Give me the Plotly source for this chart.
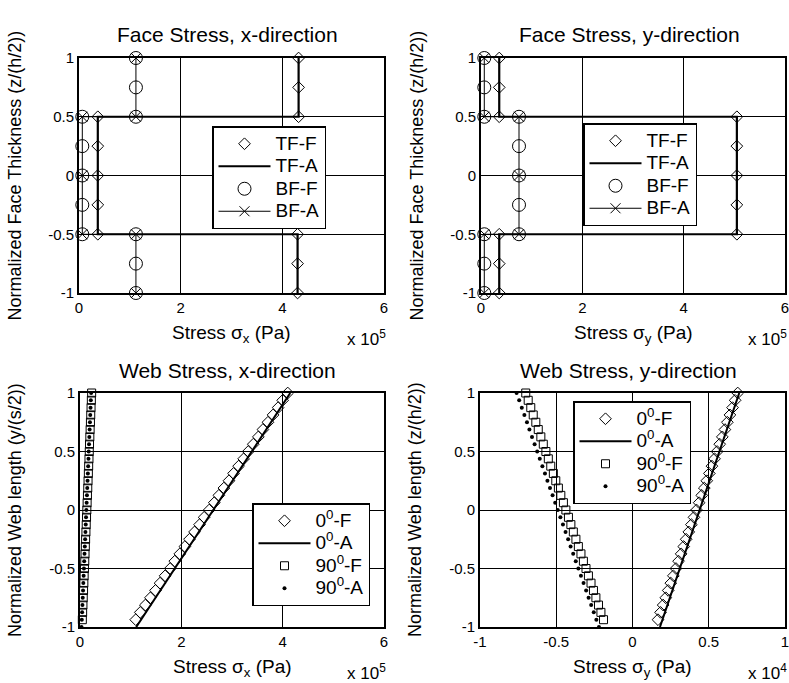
import plotly.graph_objects as go

FONT = "Liberation Sans, Arial, Helvetica, sans-serif"

# ---------------- Face stress data (x in units of 1e5 Pa) ----------------
face_z_F = [1, 0.75, 0.5, 0.5, 0.25, 0, -0.25, -0.5, -0.5, -0.75, -1]
face_z_TFA = [1, 0.5, 0.5, -0.5, -0.5, -1]
face_z_BFA = [1, 0.5, 0.5, 0, -0.5, -0.5, -1]

# x-direction
fx_TF_F = [4.32, 4.32, 4.32, 0.37, 0.37, 0.37, 0.37, 0.37, 4.30, 4.30, 4.30]
fx_TF_A = [4.32, 4.32, 0.37, 0.37, 4.30, 4.30]
fx_BF_F = [1.12, 1.12, 1.12, 0.065, 0.065, 0.065, 0.065, 0.065, 1.12, 1.12, 1.12]
fx_BF_A = [1.12, 1.12, 0.065, 0.065, 0.065, 1.12, 1.12]

# y-direction
fy_TF_F = [0.36, 0.36, 0.36, 5.05, 5.05, 5.05, 5.05, 5.05, 0.36, 0.36, 0.36]
fy_TF_A = [0.36, 0.36, 5.05, 5.05, 0.36, 0.36]
fy_BF_F = [0.065, 0.065, 0.065, 0.75, 0.75, 0.75, 0.75, 0.75, 0.065, 0.065, 0.065]
fy_BF_A = [0.065, 0.065, 0.75, 0.75, 0.75, 0.065, 0.065]

# ---------------- Web stress data ----------------
web_y_F = [-0.9375, -0.875, -0.8125, -0.75, -0.6875, -0.625, -0.5625, -0.5,
           -0.4375, -0.375, -0.3125, -0.25, -0.1875, -0.125, -0.0625, 0.0,
           0.0625, 0.125, 0.1875, 0.25, 0.3125, 0.375, 0.4375, 0.5,
           0.5625, 0.625, 0.6875, 0.75, 0.8125, 0.875, 0.9375, 1.0]
web_y_A = [-1.0, -0.9375, -0.875, -0.8125, -0.75, -0.6875, -0.625, -0.5625, -0.5,
           -0.4375, -0.375, -0.3125, -0.25, -0.1875, -0.125, -0.0625, 0.0,
           0.0625, 0.125, 0.1875, 0.25, 0.3125, 0.375, 0.4375, 0.5,
           0.5625, 0.625, 0.6875, 0.75, 0.8125, 0.875, 0.9375, 1.0]
web_line_y = [-1.0, 1.0]

# x-direction web (units of 1e5 Pa)
wx_0_F = [1.10, 1.19, 1.29, 1.39, 1.49, 1.58, 1.68, 1.78, 1.87, 1.97, 2.07, 2.16,
          2.26, 2.36, 2.45, 2.55, 2.65, 2.74, 2.84, 2.94, 3.03, 3.13, 3.23, 3.32,
          3.42, 3.52, 3.61, 3.71, 3.81, 3.91, 4.00, 4.10]
wx_0_A = [1.11, 4.15]
wx_90_F = [0.046, 0.052, 0.058, 0.064, 0.070, 0.076, 0.082, 0.088, 0.094, 0.099,
           0.105, 0.111, 0.117, 0.123, 0.129, 0.135, 0.141, 0.147, 0.153, 0.159,
           0.165, 0.171, 0.177, 0.183, 0.188, 0.194, 0.200, 0.206, 0.212, 0.218,
           0.224, 0.230]
wx_90_A = [0.030, 0.036, 0.042, 0.048, 0.054, 0.060, 0.066, 0.072, 0.078, 0.083,
           0.089, 0.095, 0.101, 0.107, 0.113, 0.119, 0.125, 0.131, 0.137, 0.143,
           0.149, 0.155, 0.161, 0.167, 0.172, 0.178, 0.184, 0.190, 0.196, 0.202,
           0.208, 0.214, 0.220]

# y-direction web (units of 1e4 Pa)
wy_0_F = [0.167, 0.184, 0.201, 0.218, 0.234, 0.251, 0.268, 0.285, 0.302, 0.319,
          0.336, 0.352, 0.369, 0.386, 0.403, 0.420, 0.437, 0.454, 0.471, 0.487,
          0.504, 0.521, 0.538, 0.555, 0.572, 0.589, 0.606, 0.622, 0.639, 0.656,
          0.673, 0.690]
wy_0_A = [0.18, 0.70]
wy_90_F = [-0.190, -0.207, -0.223, -0.240, -0.256, -0.272, -0.289, -0.305, -0.322,
           -0.338, -0.355, -0.371, -0.388, -0.404, -0.420, -0.437, -0.453, -0.470,
           -0.486, -0.503, -0.519, -0.536, -0.552, -0.568, -0.585, -0.601, -0.618,
           -0.634, -0.651, -0.667, -0.684, -0.700]
wy_90_A = [-0.220, -0.237, -0.254, -0.271, -0.288, -0.304, -0.321, -0.338, -0.355,
           -0.372, -0.389, -0.406, -0.422, -0.439, -0.456, -0.473, -0.490, -0.507,
           -0.524, -0.541, -0.558, -0.574, -0.591, -0.608, -0.625, -0.642, -0.659,
           -0.676, -0.692, -0.709, -0.726, -0.743, -0.760]

# ---------------- Ticks ----------------
ticks_0_6 = [0, 2, 4, 6]
ticks_0_6_text = ["0", "2", "4", "6"]
ticks_m1_1 = [-1, -0.5, 0, 0.5, 1]
ticks_m1_1_text = ["-1", "-0.5", "0", "0.5", "1"]
layer_interfaces = [-0.5, 0.5]

titles = ["Face Stress, x-direction", "Face Stress, y-direction",
          "Web Stress, x-direction", "Web Stress, y-direction"]
xtitles = ["Stress σ<sub>x</sub> (Pa)", "Stress σ<sub>y</sub> (Pa)",
           "Stress σ<sub>x</sub> (Pa)", "Stress σ<sub>y</sub> (Pa)"]
ytitles = ["Normalized Face Thickness (z/(h/2))", "Normalized Face Thickness (z/(h/2))",
           "Normalized Web length (y/(s/2))", "Normalized Web length (z/(h/2))"]
exps = ["x 10<sup>5</sup>", "x 10<sup>5</sup>", "x 10<sup>5</sup>", "x 10<sup>4</sup>"]

W, H = 789, 683
LEG_TXT = '<span style="font-size:19px">%s</span>'


def px(x):
    return x / W


def py(y):
    return 1 - y / H


fig = go.Figure()


def face_traces(xTFF, xTFA, xBFF, xBFA, xa, ya, leg):
    fig.add_trace(go.Scatter(x=xTFF, y=face_z_F, mode="markers", name=LEG_TXT % "TF-F",
                             marker=dict(symbol="diamond-open", size=9, color="black",
                                         line=dict(width=1)),
                             xaxis=xa, yaxis=ya, legend=leg, cliponaxis=False))
    fig.add_trace(go.Scatter(x=xTFA, y=face_z_TFA, mode="lines", name=LEG_TXT % "TF-A",
                             line=dict(color="black", width=2.2),
                             xaxis=xa, yaxis=ya, legend=leg, cliponaxis=False))
    fig.add_trace(go.Scatter(x=xBFF, y=face_z_F, mode="markers", name=LEG_TXT % "BF-F",
                             marker=dict(symbol="circle-open", size=13, color="black",
                                         line=dict(width=1)),
                             xaxis=xa, yaxis=ya, legend=leg, cliponaxis=False))
    fig.add_trace(go.Scatter(x=xBFA, y=face_z_BFA, mode="lines+markers", name=LEG_TXT % "BF-A",
                             line=dict(color="black", width=1),
                             marker=dict(symbol="x-thin-open", size=10, color="black",
                                         line=dict(width=1, color="black")),
                             xaxis=xa, yaxis=ya, legend=leg, cliponaxis=False))


def web_traces(x0F, x0A, x90F, x90A, xa, ya, leg):
    fig.add_trace(go.Scatter(x=x0F, y=web_y_F, mode="markers",
                             name=LEG_TXT % "0<sup>0</sup>-F",
                             marker=dict(symbol="diamond-open", size=9, color="black",
                                         line=dict(width=1)),
                             xaxis=xa, yaxis=ya, legend=leg, cliponaxis=False))
    fig.add_trace(go.Scatter(x=x0A, y=web_line_y, mode="lines",
                             name=LEG_TXT % "0<sup>0</sup>-A",
                             line=dict(color="black", width=2),
                             xaxis=xa, yaxis=ya, legend=leg, cliponaxis=False))
    fig.add_trace(go.Scatter(x=x90F, y=web_y_F, mode="markers",
                             name=LEG_TXT % "90<sup>0</sup>-F",
                             marker=dict(symbol="square-open", size=8, color="black",
                                         line=dict(width=1)),
                             xaxis=xa, yaxis=ya, legend=leg, cliponaxis=False))
    fig.add_trace(go.Scatter(x=x90A, y=web_y_A, mode="markers",
                             name=LEG_TXT % "90<sup>0</sup>-A",
                             marker=dict(symbol="circle", size=4, color="black"),
                             xaxis=xa, yaxis=ya, legend=leg, cliponaxis=False))


face_traces(fx_TF_F, fx_TF_A, fx_BF_F, fx_BF_A, "x", "y", "legend")
face_traces(fy_TF_F, fy_TF_A, fy_BF_F, fy_BF_A, "x2", "y2", "legend2")
web_traces(wx_0_F, wx_0_A, wx_90_F, wx_90_A, "x3", "y3", "legend3")
web_traces(wy_0_F, wy_0_A, wy_90_F, wy_90_A, "x4", "y4", "legend4")

# plot areas in pixels: (left, right, top, bottom)
boxes = [(79, 384, 58, 293), (481, 785, 58, 293),
         (80, 384, 393, 627), (480, 785, 393, 627)]
xranges = [[0, 6], [0, 6], [0, 6], [-1, 1]]
xtickv = [ticks_0_6, ticks_0_6, ticks_0_6, ticks_m1_1]
xtickt = [ticks_0_6_text, ticks_0_6_text, ticks_0_6_text, ticks_m1_1_text]

axis_common = dict(showgrid=True, gridcolor="black", gridwidth=1, zeroline=False,
                   showline=True, linecolor="black", linewidth=2, mirror=True,
                   ticks="", tickfont=dict(size=15, color="black", family=FONT),
                   tickmode="array", fixedrange=True, automargin=False,
                   ticklabeloverflow="allow")

layout = dict(template="none", width=W, height=H, autosize=False,
              margin=dict(l=0, r=0, t=0, b=0, pad=0),
              paper_bgcolor="white", plot_bgcolor="white",
              font=dict(family=FONT, color="black"), showlegend=True)

annotations = []
for i, (l, r, t, b) in enumerate(boxes):
    sfx = "" if i == 0 else str(i + 1)
    layout["xaxis" + sfx] = dict(domain=[px(l), px(r)], range=xranges[i],
                                 tickvals=xtickv[i], ticktext=xtickt[i],
                                 anchor="y" + sfx, **axis_common)
    layout["yaxis" + sfx] = dict(domain=[py(b), py(t)], range=[-1, 1],
                                 tickvals=ticks_m1_1, ticktext=ticks_m1_1_text,
                                 anchor="x" + sfx, **axis_common)
    cx = (l + r) / 2
    annotations.append(dict(text=titles[i], x=px(cx - 4), y=py(t - 23), xref="paper", yref="paper",
                            xanchor="center", yanchor="middle", showarrow=False,
                            font=dict(size=21, family=FONT, color="black")))
    annotations.append(dict(text=xtitles[i], x=px(cx), y=py(b + 41), xref="paper", yref="paper",
                            xanchor="center", yanchor="middle", showarrow=False,
                            font=dict(size=19, family=FONT, color="black")))
    annotations.append(dict(text=exps[i], x=px(min(r + 4, W)), y=py(b + 45), xref="paper",
                            yref="paper", xanchor="right", yanchor="middle", showarrow=False,
                            font=dict(size=17, family=FONT, color="black")))
    annotations.append(dict(text=ytitles[i], x=px(l - 65), y=py((t + b) / 2), xref="paper",
                            yref="paper", xanchor="center", yanchor="middle", textangle=-90,
                            showarrow=False, font=dict(size=18, family=FONT, color="black")))

# thicker grid lines at the face layer interfaces (top two panels)
for k, base in ((5, ""), (6, "2")):
    layout["yaxis%d" % k] = dict(overlaying="y" + base, anchor="x" + base, range=[-1, 1],
                                 tickmode="array", tickvals=layer_interfaces,
                                 showticklabels=False, ticks="", showgrid=True,
                                 gridcolor="black", gridwidth=2, zeroline=False,
                                 showline=False, fixedrange=True, automargin=False)

layout["annotations"] = annotations

legend_pos = [(212, 126), (583, 123), (252, 503), (573, 401)]
for i, (lx, ly) in enumerate(legend_pos):
    key = "legend" if i == 0 else "legend" + str(i + 1)
    layout[key] = dict(x=px(lx), y=py(ly), xanchor="left", yanchor="top",
                       xref="paper", yref="paper",
                       bgcolor="white", bordercolor="black", borderwidth=1.5,
                       font=dict(size=15, family=FONT, color="black"),
                       tracegroupgap=0, itemwidth=52)

fig.update_layout(**layout)
fig.write_html("out.html", config={"displayModeBar": False},
               post_script="document.body.style.margin='0px';document.body.style.padding='0px';")
